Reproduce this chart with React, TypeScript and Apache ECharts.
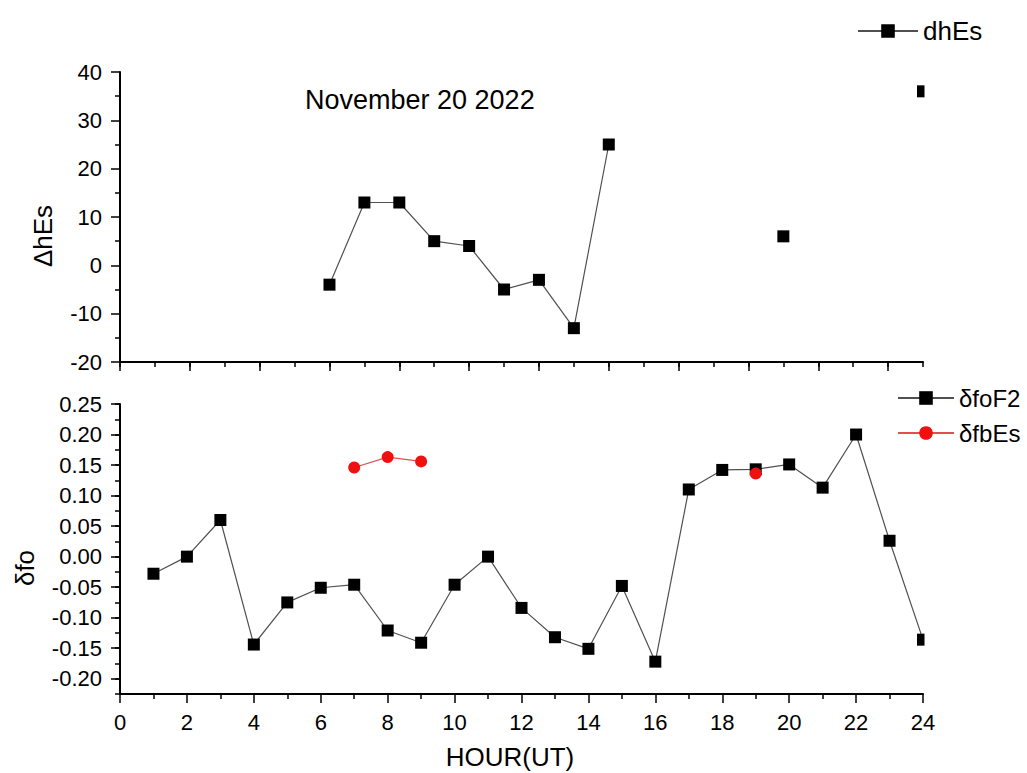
import React, { useEffect, useRef } from 'react';
import * as echarts from 'echarts';

// Top panel (ΔhEs)
const topHours = [6, 7, 8, 9, 10, 11, 12, 13, 14, 15, 16, 17, 18, 19, 20, 21, 22, 23];
const dhEs: (number | null)[] = [-4, 13, 13, 5, 4, -5, -3, -13, 25, null, null, null, null, 6, null, null, null, 36];

// Bottom panel (δfo)
const bottomHours = [1, 2, 3, 4, 5, 6, 7, 8, 9, 10, 11, 12, 13, 14, 15, 16, 17, 18, 19, 20, 21, 22, 23, 24];
const foF2: (number | null)[] = [
  -0.028, 0.0, 0.06, -0.144, -0.075, -0.051, -0.046, -0.121, -0.141, -0.046, 0.0, -0.084,
  -0.132, -0.151, -0.048, -0.172, 0.11, 0.142, 0.143, 0.151, 0.113, 0.2, 0.026, -0.136,
];
const fbEs: (number | null)[] = [
  null, null, null, null, null, null, 0.146, 0.163, 0.156, null, null, null,
  null, null, null, null, null, null, 0.136, null, null, null, null, null,
];

const FONT = '"Liberation Sans", Arial, Helvetica, sans-serif';
const BLACK = '#000';
const LINE = '#505050';
const RED = '#f01010';

const toPairs = (xs: number[], ys: (number | null)[]) => xs.map((x, i) => [x, ys[i] == null ? '-' : ys[i]]);

export default function App() {
  const ref = useRef<HTMLDivElement>(null);
  useEffect(() => {
    if (!ref.current) return;
    const chart = echarts.init(ref.current, undefined, { renderer: 'svg' });
    const axisLine = { show: true, onZero: false, lineStyle: { color: BLACK, width: 2 } };
    const label = { color: BLACK, fontSize: 22, fontFamily: FONT };
    const plotW = 803;
    const topH = 290;
    const botH = 290;
    const option: any = {
      animation: false,
      backgroundColor: '#fff',
      grid: [
        { left: 120, top: 72, width: plotW, height: topH },
        { left: 120, top: 404, width: plotW, height: botH },
        { left: 120, top: 72, width: (plotW * 22) / 23, height: topH },
        { left: 120, top: 404, width: plotW, height: (botH * 0.45) / 0.475 },
      ],
      xAxis: [
        {
          gridIndex: 0, type: 'value', min: 0, max: 23, interval: 1,
          axisLine, axisTick: { show: true, length: 5, lineStyle: { color: BLACK, width: 1.5 } },
          axisLabel: { show: false }, splitLine: { show: false },
        },
        {
          gridIndex: 1, type: 'value', min: 0, max: 24, interval: 2,
          axisLine, axisTick: { show: true, length: 9, lineStyle: { color: BLACK, width: 1.5 } },
          minorTick: { show: true, splitNumber: 2, length: 5, lineStyle: { color: BLACK, width: 1.5 } },
          axisLabel: { ...label, margin: 17 }, splitLine: { show: false }, minorSplitLine: { show: false },
        },
        {
          gridIndex: 2, type: 'value', min: 0, max: 22, interval: 2,
          axisLine: { show: false, onZero: false }, axisTick: { show: true, length: 9, lineStyle: { color: BLACK, width: 1.5 } },
          axisLabel: { show: false }, splitLine: { show: false },
        },
        { gridIndex: 3, type: 'value', min: 0, max: 24, show: false, axisLine: { onZero: false } },
      ],
      yAxis: [
        {
          gridIndex: 0, type: 'value', min: -20, max: 40, interval: 10,
          axisLine, axisTick: { show: true, length: 9, lineStyle: { color: BLACK, width: 1.5 } },
          minorTick: { show: true, splitNumber: 2, length: 5, lineStyle: { color: BLACK, width: 1.5 } },
          axisLabel: { ...label, margin: 18 }, splitLine: { show: false }, minorSplitLine: { show: false },
        },
        {
          gridIndex: 1, type: 'value', min: -0.225, max: 0.25, interval: 0.025,
          axisLine, axisTick: { show: true, length: 5, lineStyle: { color: BLACK, width: 1.5 } },
          axisLabel: { show: false }, splitLine: { show: false },
        },
        { gridIndex: 2, type: 'value', min: -20, max: 40, show: false, axisLine: { onZero: false } },
        {
          gridIndex: 3, type: 'value', min: -0.2, max: 0.25, interval: 0.05,
          axisLine: { show: false, onZero: false }, axisTick: { show: true, length: 9, lineStyle: { color: BLACK, width: 1.5 } },
          axisLabel: {
            ...label, margin: 18,
            formatter: (v: number) => (Math.abs(v) < 1e-9 ? 0 : v).toFixed(2),
          },
          splitLine: { show: false },
        },
      ],
      legend: [
        {
          data: ['dhEs'], left: 857, top: 18, padding: 0,
          itemWidth: 60, itemHeight: 17,
          textStyle: { color: BLACK, fontSize: 26, fontFamily: FONT },
        },
        {
          data: ['δfoF2', 'δfbEs'], orient: 'vertical', left: 897, top: 386, padding: 0,
          itemWidth: 56, itemHeight: 17, itemGap: 11,
          textStyle: { color: BLACK, fontSize: 24, fontFamily: FONT },
        },
      ],
      series: [
        {
          name: 'dhEs', type: 'line', xAxisIndex: 0, yAxisIndex: 0,
          data: toPairs(topHours, dhEs), connectNulls: false,
          symbol: 'rect', symbolSize: 12, showSymbol: true,
          itemStyle: { color: BLACK }, lineStyle: { color: LINE, width: 1.2 },
        },
        {
          name: 'δfoF2', type: 'line', xAxisIndex: 1, yAxisIndex: 1,
          data: toPairs(bottomHours, foF2), connectNulls: false,
          symbol: 'rect', symbolSize: 12, showSymbol: true,
          itemStyle: { color: BLACK }, lineStyle: { color: LINE, width: 1.2 },
        },
        {
          name: 'δfbEs', type: 'line', xAxisIndex: 1, yAxisIndex: 1,
          data: toPairs(bottomHours, fbEs), connectNulls: false,
          symbol: 'circle', symbolSize: 12, showSymbol: true,
          itemStyle: { color: RED }, lineStyle: { color: '#e05050', width: 1.2 },
        },
      ],
      graphic: [
        {
          type: 'text', x: 305, y: 100, z: 10,
          style: { text: 'November 20 2022', fontSize: 27, fontFamily: FONT, fill: BLACK, textAlign: 'left', align: 'left', textVerticalAlign: 'middle', verticalAlign: 'middle' },
        },
        {
          type: 'text', x: 43, y: 236, rotation: Math.PI / 2, z: 10,
          style: { text: 'ΔhEs', fontSize: 26, fontFamily: FONT, fill: BLACK, textAlign: 'center', align: 'center', textVerticalAlign: 'middle', verticalAlign: 'middle' },
        },
        {
          type: 'text', x: 25, y: 568, rotation: Math.PI / 2, z: 10,
          style: { text: 'δfo', fontSize: 26, fontFamily: FONT, fill: BLACK, textAlign: 'center', align: 'center', textVerticalAlign: 'middle', verticalAlign: 'middle' },
        },
        {
          type: 'text', x: 510, y: 757, z: 10,
          style: { text: 'HOUR(UT)', fontSize: 26, fontFamily: FONT, fill: BLACK, textAlign: 'center', align: 'center', textVerticalAlign: 'middle', verticalAlign: 'middle' },
        },
        { type: 'rect', x: 924.5, y: 60, z: 100, shape: { width: 14, height: 300 }, style: { fill: '#fff' } },
        { type: 'rect', x: 924.5, y: 450, z: 100, shape: { width: 14, height: 242 }, style: { fill: '#fff' } },
      ],
    };
    chart.setOption(option);
    return () => chart.dispose();
  }, []);
  return <div ref={ref} style={{ position: 'absolute', left: 0, top: 0, width: 1027, height: 773 }} />;
}
